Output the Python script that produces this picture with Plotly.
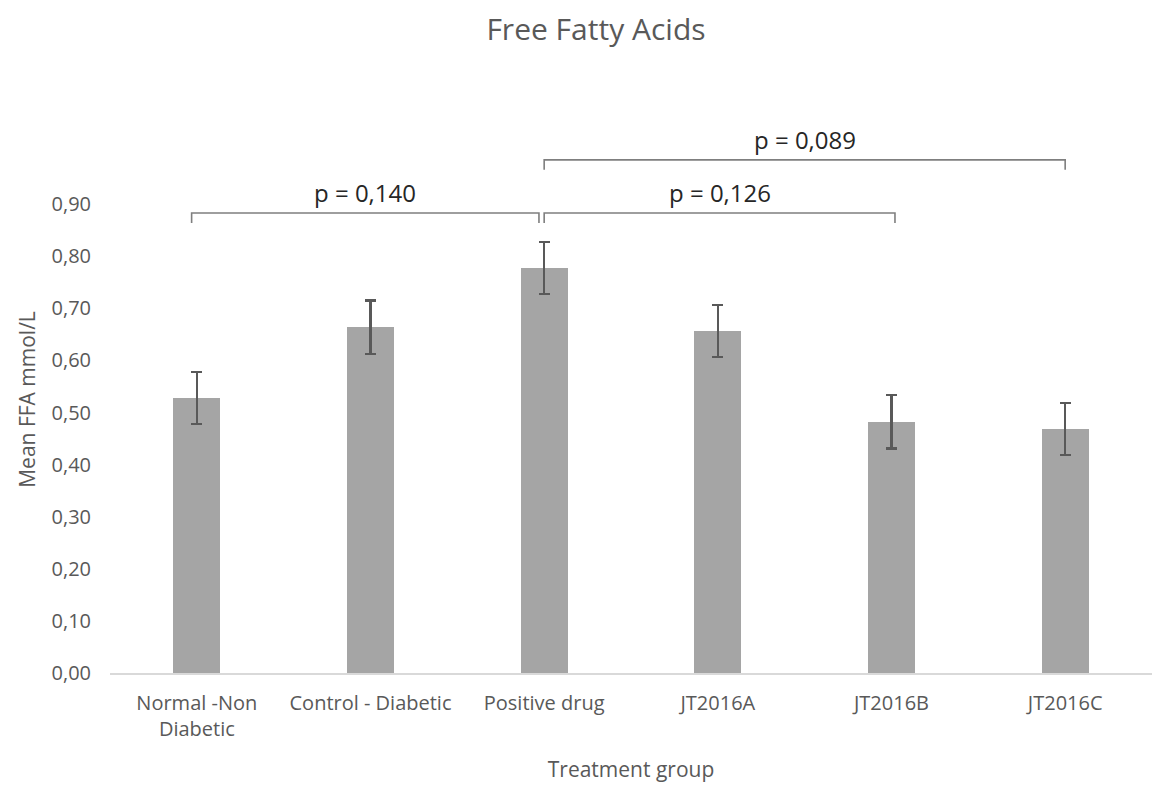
import plotly.graph_objects as go

# Free fatty acid means per treatment group with their error (mmol/L)
groups = ["Normal -Non<br>Diabetic", "Control - Diabetic", "Positive drug",
          "JT2016A", "JT2016B", "JT2016C"]
mean_ffa = [0.528, 0.664, 0.777, 0.656, 0.482, 0.468]
err_ffa = [0.050, 0.051, 0.050, 0.050, 0.051, 0.050]
y_ticks = [0.0, 0.1, 0.2, 0.3, 0.4, 0.5, 0.6, 0.7, 0.8, 0.9]

# Pairwise comparisons: (group index from, group index to, bracket level, label)
comp_from = [0, 2, 2]
comp_to = [2, 4, 5]
comp_level = [0.883, 0.883, 0.985]
comp_text = ["p = 0,140", "p = 0,126", "p = 0,089"]

FONT = "Open Sans"
GREY_TXT = "#595959"

fig = go.Figure()
fig.add_trace(go.Bar(
    x=list(range(len(groups))),
    y=mean_ffa,
    width=0.27,
    marker=dict(color="#A5A5A5", line=dict(width=0)),
    error_y=dict(type="data", array=err_ffa, visible=True,
                 color="#595959", thickness=2.2, width=5.5),
    hoverinfo="y",
))

# comparison brackets with their p-values
offs_l = [-0.03, 0.0, 0.0]
offs_r = [-0.03, 0.02, 0.0]
for a, b, lv, txt, ol, orr in zip(comp_from, comp_to, comp_level, comp_text, offs_l, offs_r):
    x0, x1 = a + ol, b + orr
    drop = 0.019
    fig.add_shape(type="path",
                  path=f"M {x0},{lv - drop} L {x0},{lv} L {x1},{lv} L {x1},{lv - drop}",
                  xref="x", yref="y",
                  line=dict(color="#7F7F7F", width=1.6))
    fig.add_annotation(x=(x0 + x1) / 2, y=lv + 0.04, xref="x", yref="y",
                       text=txt, showarrow=False,
                       font=dict(family=FONT, size=24, color="#262626"))

fig.update_layout(
    width=1155, height=785,
    margin=dict(l=110, r=3, t=126, b=112),
    paper_bgcolor="white", plot_bgcolor="white",
    separators=",.",
    showlegend=False,
    title=dict(text="Free Fatty Acids", x=0.516, xanchor="center",
               y=0.962, yanchor="middle",
               font=dict(family=FONT, size=30, color=GREY_TXT)),
    font=dict(family=FONT, color=GREY_TXT),
    bargap=0,
)
fig.update_xaxes(
    range=[-0.5, len(groups) - 0.5],
    tickmode="array", tickvals=list(range(len(groups))), ticktext=groups,
    tickfont=dict(family=FONT, size=20, color=GREY_TXT),
    showline=True, linecolor="#D9D9D9", linewidth=1.5,
    showgrid=False, zeroline=False, ticks="",
    ticklabelstandoff=11,
    title=dict(text="Treatment group", standoff=22,
               font=dict(family=FONT, size=21, color=GREY_TXT)),
)
fig.update_yaxes(
    range=[0, 1.05],
    tickmode="array", tickvals=y_ticks, tickformat=".2f",
    tickfont=dict(family=FONT, size=20, color=GREY_TXT),
    showline=False, showgrid=False, zeroline=False, ticks="",
    ticklabelstandoff=18,
    title=dict(text="Mean FFA mmol/L", standoff=10,
               font=dict(family=FONT, size=21, color=GREY_TXT)),
)

fig.write_html("out.html")
